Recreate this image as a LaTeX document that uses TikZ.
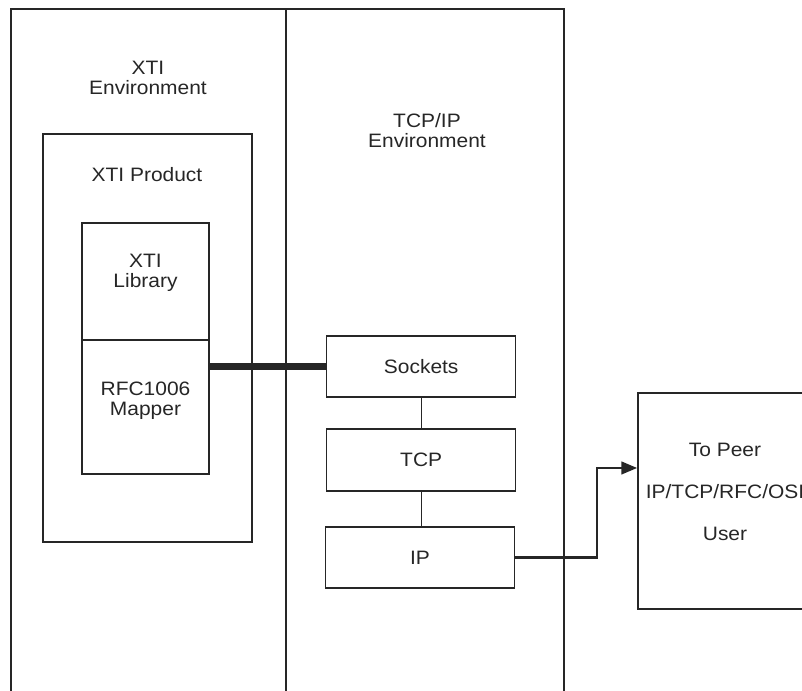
\documentclass[tikz,border=0pt]{standalone}
\usepackage{fontspec}
\setmainfont{Liberation Sans}[FakeStretch=1.08]
\usetikzlibrary{arrows,positioning}

\begin{document}
\begin{tikzpicture}[>=triangle 45,
  txt/.style={font=\fontsize{13.8}{14.2}\selectfont, text=black!85, align=center},
  box/.style={draw=black!85, line width=1pt, inner sep=0pt},
  frame/.style={draw=black!85, line width=1.4pt}]

\useasboundingbox (0,0) rectangle (20.05,17.275);
\clip (0,0) rectangle (20.05,17.275);

% the two environments
\draw[frame] (0.275,-0.5) |- (14.1,17.05) -- (14.1,-0.5);
\draw[frame] (7.15,17.05) -- (7.15,-0.5);

\node[txt] (xtiEnvLbl) at (3.7,15.325) {XTI\\Environment};
\node[txt] (tcpEnvLbl) at (10.675,14.0125) {TCP/IP\\Environment};

% xti side
\node[box, minimum width=5.225cm, minimum height=10.2cm] (xtiProd) at (3.6875,8.825) {};
\node[txt] (xtiProdLbl) at (3.675,12.9) {XTI Product};

\node[box, minimum width=3.175cm, minimum height=2.925cm] (xtiLib) at (3.6375,10.2375) {};
\node[box, minimum width=3.175cm, minimum height=3.35cm] (mapper) at (3.6375,7.1) {};
\node[txt] (xtiLibLbl) at (3.6375,10.45) {XTI\\Library};
\node[txt] (mapperLbl) at (3.6375,7.25) {RFC1006\\Mapper};

% tcp/ip stack
\node[box, txt, minimum width=4.725cm, minimum height=1.525cm] (sockets) at (10.53,8.1125) {Sockets};
\node[box, txt, minimum width=4.725cm, minimum height=1.55cm] (tcp) at (10.53,5.775) {TCP};
\node[box, txt, minimum width=4.725cm, minimum height=1.525cm] (ip) at (10.5,3.3375) {IP};

% peer
\node[box, line width=1.4pt, minimum width=4.35cm, minimum height=5.4cm] (peer) at (18.125,4.75) {};
\node[txt] (peerLbl) at (18.125,4.975) {To Peer\\[0.55cm]IP/TCP/RFC/OSI\\[0.55cm]User};

\coordinate (bend) at (14.925,5.575);

\draw[line width=4.3pt, black!85] (sockets.west) -- (sockets.west -| mapper.east);
\draw[line width=0.9pt, black!85] (sockets) -- (tcp);
\draw[line width=0.9pt, black!85] (tcp) -- (ip.north -| tcp.south);
\draw[->, line width=1.6pt, black!85] (ip.east) -| (bend) -- (bend -| peer.west);

\end{tikzpicture}
\end{document}
